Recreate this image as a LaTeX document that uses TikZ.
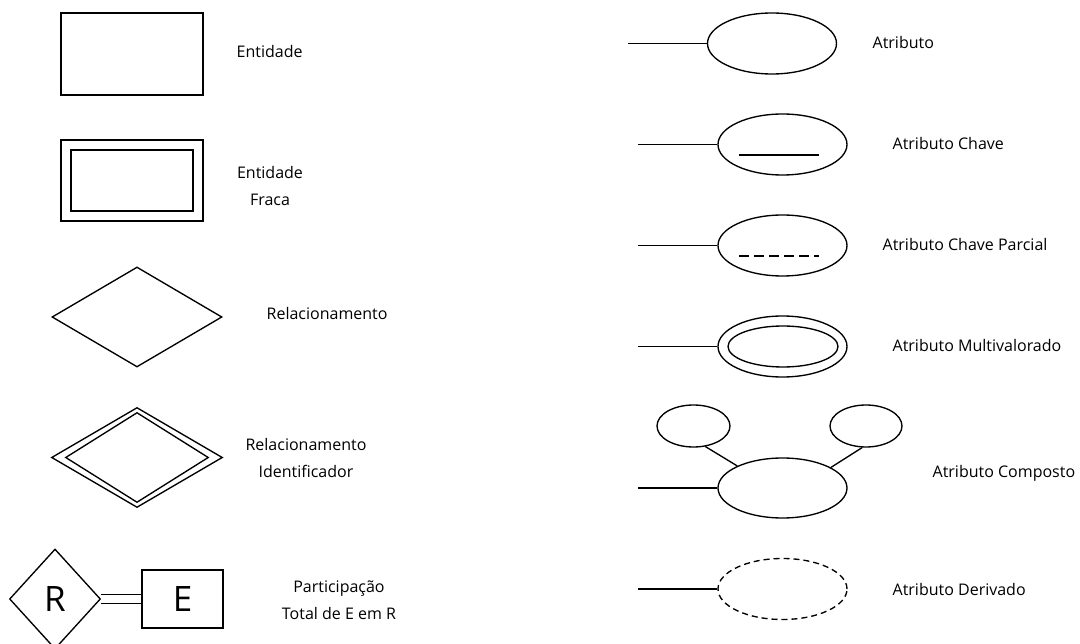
\documentclass[tikz,border=0pt]{standalone}
\usepackage{fontspec}
\setmainfont{Open Sans}
\usetikzlibrary{shapes.geometric}

\begin{document}
\begin{tikzpicture}[x=1pt,y=-1pt,line width=1.35pt,
    ent/.style={draw,rectangle,inner sep=0pt},
    rel/.style={draw,diamond,inner sep=0pt},
    attr/.style={draw,ellipse,inner sep=0pt,minimum width=129pt,minimum height=61pt},
    lbl/.style={font=\fontsize{16}{27}\selectfont,align=center,inner sep=0pt}]
                \useasboundingbox (0,0) rectangle (1080,644);
                %left column: entities and relationships
                \node[ent,minimum width=142pt,minimum height=82pt] (ent) at (132,54) {};
                \node[lbl,anchor=west] (entl) at (236,52) {Entidade};
                \node[ent,minimum width=142pt,minimum height=81pt] (weak) at (132,180.5) {};
                \node[ent,minimum width=122pt,minimum height=61pt] (weakin) at (132,180.5) {};
                \node[lbl] (weakl) at (270,186) {Entidade\\Fraca};
                \node[rel,minimum width=170pt,minimum height=100pt] (rel) at (137,317) {};
                \node[lbl,anchor=west] (rell) at (266,314) {Relacionamento};
                \node[rel,minimum width=171pt,minimum height=100pt] (idrel) at (137,457.5) {};
                \node[rel,minimum width=143pt,minimum height=90pt] (idrelin) at (137,457.5) {};
                \node[lbl] (idrell) at (306,458) {Relacionamento\\Identificador};
                %total participation
                \node[rel,minimum width=91pt,minimum height=100pt,font=\fontsize{35}{40}\selectfont] (R) at (55,599) {R};
                \node[ent,minimum width=81pt,minimum height=58pt,font=\fontsize{35}{40}\selectfont] (E) at (182.5,599) {E};
                \draw[double,double distance=7.5pt] (R) -- (E);
                \node[lbl] (partl) at (339,600) {Participação\\Total de E em R};
                %right column: attributes
                \node[attr] (atr) at (772,43.5) {};
                \coordinate (atre) at (628,43.5);
                \draw (atre) -- (atr.west);
                \node[lbl,anchor=west] (atrl) at (872,43) {Atributo};
                \node[attr] (key) at (782.5,144.5) {};
                \coordinate (keye) at (638,144.5);
                \draw (keye) -- (key.west);
                \draw (739,155) -- (819,155);
                \node[lbl,anchor=west] (keyl) at (892,144) {Atributo Chave};
                \node[attr] (pkey) at (782.5,245.5) {};
                \coordinate (pkeye) at (638,245.5);
                \draw (pkeye) -- (pkey.west);
                \draw[dash pattern=on 10pt off 5pt] (739,256) -- (819,256);
                \node[lbl,anchor=west] (pkeyl) at (882,245) {Atributo Chave Parcial};
                \node[attr] (multi) at (782.5,346.5) {};
                \node[draw,ellipse,inner sep=0pt,minimum width=110pt,minimum height=41pt] (multiin) at (783,346.5) {};
                \coordinate (multie) at (638,346.5);
                \draw (multie) -- (multi.west);
                \node[lbl,anchor=west] (multil) at (892,346) {Atributo Multivalorado};
                %composite attribute
                \node[attr,minimum height=60pt] (comp) at (782.5,488) {};
                \node[draw,ellipse,inner sep=0pt,minimum width=73pt,minimum height=42pt] (compl) at (693.5,426) {};
                \node[draw,ellipse,inner sep=0pt,minimum width=72pt,minimum height=42pt] (compr) at (866,426) {};
                \draw (compl.-60) -- (comp.154);
                \draw (compr.-100) -- (comp.23);
                \coordinate (compe) at (638,488);
                \draw (compe) -- (comp.west);
                \node[lbl,anchor=west] (compt) at (932,473) {Atributo Composto};
                \node[attr,dash pattern=on 6pt off 4pt] (der) at (782.5,589) {};
                \coordinate (dere) at (638,589);
                \draw (dere) -- (der.west);
                \node[lbl,anchor=west] (derl) at (892,589) {Atributo Derivado};
                \end{tikzpicture}
\end{document}
